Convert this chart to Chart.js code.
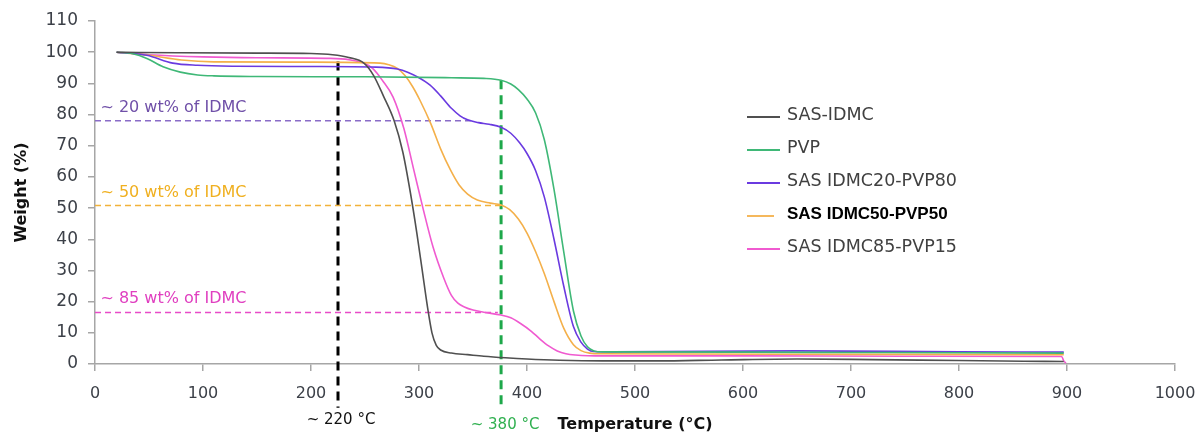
<!DOCTYPE html>
<html>
<head>
<meta charset="utf-8">
<script src="https://cdn.jsdelivr.net/npm/chart.js@4.4.1/dist/chart.umd.min.js"></script>
<style>
  body { margin: 0; background: #fff; }
</style>
</head>
<body>
<canvas id="tga-chart" width="1200" height="435"></canvas>
<script>
// TGA curves (temperature in oC, weight in %)
var seriesLabels = ['SAS-IDMC', 'PVP', 'SAS IDMC20-PVP80', 'SAS IDMC50-PVP50', 'SAS IDMC85-PVP15'];

var sasIdmcTemp = [20, 40, 80, 150, 200, 220, 235, 249, 258, 267, 277, 285, 292, 298, 303, 308, 312, 316, 320, 330, 345, 360, 380, 400, 430, 470, 520, 580, 650, 720, 800, 860, 897];
var sasIdmcWeight = [100, 99.9, 99.8, 99.7, 99.6, 99.2, 98.3, 96.5, 92.5, 86, 78, 68, 55, 42, 30, 18, 10, 6, 4.5, 3.5, 3, 2.5, 2, 1.6, 1.2, 1, 1, 1.3, 1.6, 1.4, 1.1, 0.9, 0.8];

var pvpTemp = [20, 35, 48, 63, 79, 95, 110, 150, 250, 330, 360, 376, 385, 392, 400, 408, 416, 425, 434, 443, 450, 456, 462, 470, 600, 700, 800, 897];
var pvpWeight = [100, 99.5, 98, 95.3, 93.6, 92.7, 92.4, 92.2, 92.1, 91.8, 91.6, 91, 89.8, 88, 85, 80.5, 72, 56, 36, 17, 9, 5.5, 4.2, 3.9, 3.8, 3.7, 3.6, 3.5];

var idmc20Temp = [20, 48, 72, 95, 130, 200, 260, 280, 290, 300, 310, 320, 330, 338, 345, 355, 365, 376, 385, 393, 400, 408, 416, 425, 434, 443, 450, 456, 462, 480, 650, 800, 897];
var idmc20Weight = [100, 99, 96.5, 95.8, 95.5, 95.4, 95.2, 94.6, 93.5, 91.8, 89.5, 86, 82, 79.6, 78.3, 77.4, 76.9, 75.9, 74, 71, 67.5, 62, 53.6, 40, 25, 12, 7, 4.8, 4, 3.9, 4.2, 3.9, 3.8];

var idmc50Temp = [20, 50, 80, 110, 200, 264, 272, 280, 287, 294, 301, 311, 320, 329, 337, 345, 354, 366, 376, 384, 392, 400, 408, 416, 425, 434, 443, 450, 458, 470, 550, 700, 897];
var idmc50Weight = [100, 99, 97.5, 96.9, 96.8, 96.5, 96, 94.8, 92.5, 89, 84.5, 77, 69, 62.3, 57.5, 54.5, 52.6, 51.6, 51, 49.5, 46.5, 42, 36, 29, 20, 11.5, 6.2, 4.3, 3.5, 3.3, 3.2, 3.1, 3];

var idmc85Temp = [20, 50, 100, 150, 218, 235, 249, 258, 266, 276, 286, 295, 304, 313, 323, 330, 336, 342, 350, 360, 376, 385, 394, 404, 412, 420, 428, 436, 445, 470, 600, 750, 895, 897, 899];
var idmc85Weight = [100, 99.2, 98.5, 98.2, 98, 97.6, 96.5, 94.5, 91, 85.6, 75.5, 62.5, 49.5, 37.5, 27.5, 22, 19.5, 18.3, 17.3, 16.6, 15.7, 14.8, 13, 10.5, 8, 5.8, 4.2, 3.3, 2.9, 2.6, 2.6, 2.5, 2.4, 1, 0.3];

// guide lines (dashed)
var onsetTemp = 225;     // ~220 oC marker
var plateauTemp = 376;   // ~380 oC marker
var residue20 = 78;
var residue50 = 50.8;
var residue85 = 16.5;

var xTicksMax = 1000;
var yTicksMax = 110;

function toPoints(xs, ys) {
  return xs.map(function(x, i) { return {x: x, y: ys[i]}; });
}

function curve(label, xs, ys, color) {
  return {
    label: label,
    data: toPoints(xs, ys),
    borderColor: color,
    borderWidth: 1.6,
    cubicInterpolationMode: 'monotone',
    pointRadius: 0,
    fill: false
  };
}

function guide(xs, ys, color, width, dash) {
  return {
    label: '',
    data: toPoints(xs, ys),
    borderColor: color,
    borderWidth: width,
    borderDash: dash,
    pointRadius: 0,
    fill: false,
    clip: false
  };
}

var datasets = [
  curve(seriesLabels[0], sasIdmcTemp, sasIdmcWeight, '#505050'),
  curve(seriesLabels[1], pvpTemp, pvpWeight, '#3fb877'),
  curve(seriesLabels[2], idmc20Temp, idmc20Weight, '#6a3ae0'),
  curve(seriesLabels[3], idmc50Temp, idmc50Weight, '#f4b04a'),
  curve(seriesLabels[4], idmc85Temp, idmc85Weight, '#f05ad0'),
  guide([0, 348], [residue20, residue20], '#8a6cc8', 1.5, [6, 4]),
  guide([0, plateauTemp], [residue50, residue50], '#f2b23a', 1.5, [6, 4]),
  guide([0, 373], [residue85, residue85], '#e84cc8', 1.5, [6, 4]),
  guide([onsetTemp, onsetTemp], [97, -14], '#000000', 3, [9, 6]),
  guide([plateauTemp, plateauTemp], [91, -14], '#1ea84a', 3, [9, 6])
];

// legend + annotation text drawn on the canvas
var annotationPlugin = {
  id: 'tgaAnnotations',
  afterDraw: function(chart) {
    var ctx = chart.ctx;
    var x = chart.scales.x;
    var y = chart.scales.y;
    var area = chart.chartArea;
    ctx.save();

    // residue labels
    ctx.font = '16px "DejaVu Sans"';
    ctx.textAlign = 'left';
    ctx.textBaseline = 'middle';
    ctx.fillStyle = '#7050a8';
    ctx.fillText('~ 20 wt% of IDMC', x.getPixelForValue(5), y.getPixelForValue(82));
    ctx.fillStyle = '#f0b020';
    ctx.fillText('~ 50 wt% of IDMC', x.getPixelForValue(5), y.getPixelForValue(54.8));
    ctx.fillStyle = '#e040c0';
    ctx.fillText('~ 85 wt% of IDMC', x.getPixelForValue(5), y.getPixelForValue(20.8));

    // temperature markers under the axis
    ctx.font = '15px "DejaVu Sans"';
    ctx.textAlign = 'center';
    ctx.fillStyle = '#111';
    ctx.fillText('~ 220 \u00B0C', x.getPixelForValue(onsetTemp) + 3, area.bottom + 56);
    ctx.fillStyle = '#30b050';
    ctx.fillText('~ 380 \u00B0C', x.getPixelForValue(plateauTemp) + 4, area.bottom + 61);

    // legend
    var lx = area.left + 652;
    var ly = area.top + 94;
    for (var i = 0; i < 5; i++) {
      var ds = chart.data.datasets[i];
      var rowY = ly + i * 33;
      ctx.strokeStyle = ds.borderColor;
      ctx.lineWidth = 1.8;
      ctx.setLineDash([]);
      ctx.beginPath();
      ctx.moveTo(lx, rowY + 2);
      ctx.lineTo(lx + (i === 3 ? 27 : 33), rowY + 2);
      ctx.stroke();
      ctx.textAlign = 'left';
      if (i === 3) {
        ctx.font = 'bold 17px "Liberation Sans"';
        ctx.fillStyle = '#000';
      } else {
        ctx.font = '17.5px "DejaVu Sans"';
        ctx.fillStyle = '#404040';
      }
      ctx.fillText(ds.label, lx + 40, rowY);
    }
    ctx.restore();
  }
};

var axisColor = '#a6a6a6';

var tgaCtx = document.getElementById('tga-chart').getContext('2d');
var tgaChart = new Chart(tgaCtx, {
  type: 'line',
  data: { datasets: datasets },
  options: {
    responsive: false,
    animation: false,
    layout: {
      padding: { top: 21, right: 25, left: 0, bottom: 0 }
    },
    scales: {
      x: {
        type: 'linear',
        min: 0,
        max: xTicksMax,
        afterFit: function(scale) {
          scale.height = 71;
          scale.paddingLeft = 0;
          scale.paddingRight = 0;
        },
        ticks: {
          stepSize: 100,
          padding: 13,
          maxRotation: 0,
          color: '#3c4048',
          font: { family: 'DejaVu Sans', size: 16 },
          callback: function(value) { return String(value); }
        },
        grid: {
          drawOnChartArea: false,
          drawTicks: true,
          tickLength: 7,
          color: axisColor,
          lineWidth: 1.5
        },
        border: { display: true, color: axisColor, width: 1.5 },
        title: {
          display: true,
          text: 'Temperature (\u00B0C)',
          color: '#111',
          font: { family: 'DejaVu Sans', size: 16, weight: 'bold' },
          padding: { top: 0, bottom: 1 }
        }
      },
      y: {
        min: 0,
        max: yTicksMax,
        afterFit: function(scale) { scale.width = 95; },
        ticks: {
          stepSize: 10,
          padding: 10,
          color: '#3c4048',
          font: { family: 'DejaVu Sans', size: 17 }
        },
        grid: {
          drawOnChartArea: false,
          drawTicks: true,
          tickLength: 7,
          color: axisColor,
          lineWidth: 1.5
        },
        border: { display: true, color: axisColor, width: 1.5 },
        title: {
          display: true,
          text: 'Weight (%)',
          color: '#111',
          font: { family: 'DejaVu Sans', size: 16, weight: 'bold' },
          padding: { top: 12, bottom: 0 }
        }
      }
    },
    plugins: {
      legend: { display: false },
      tooltip: { enabled: false }
    }
  },
  plugins: [annotationPlugin]
});
</script>
</body>
</html>
